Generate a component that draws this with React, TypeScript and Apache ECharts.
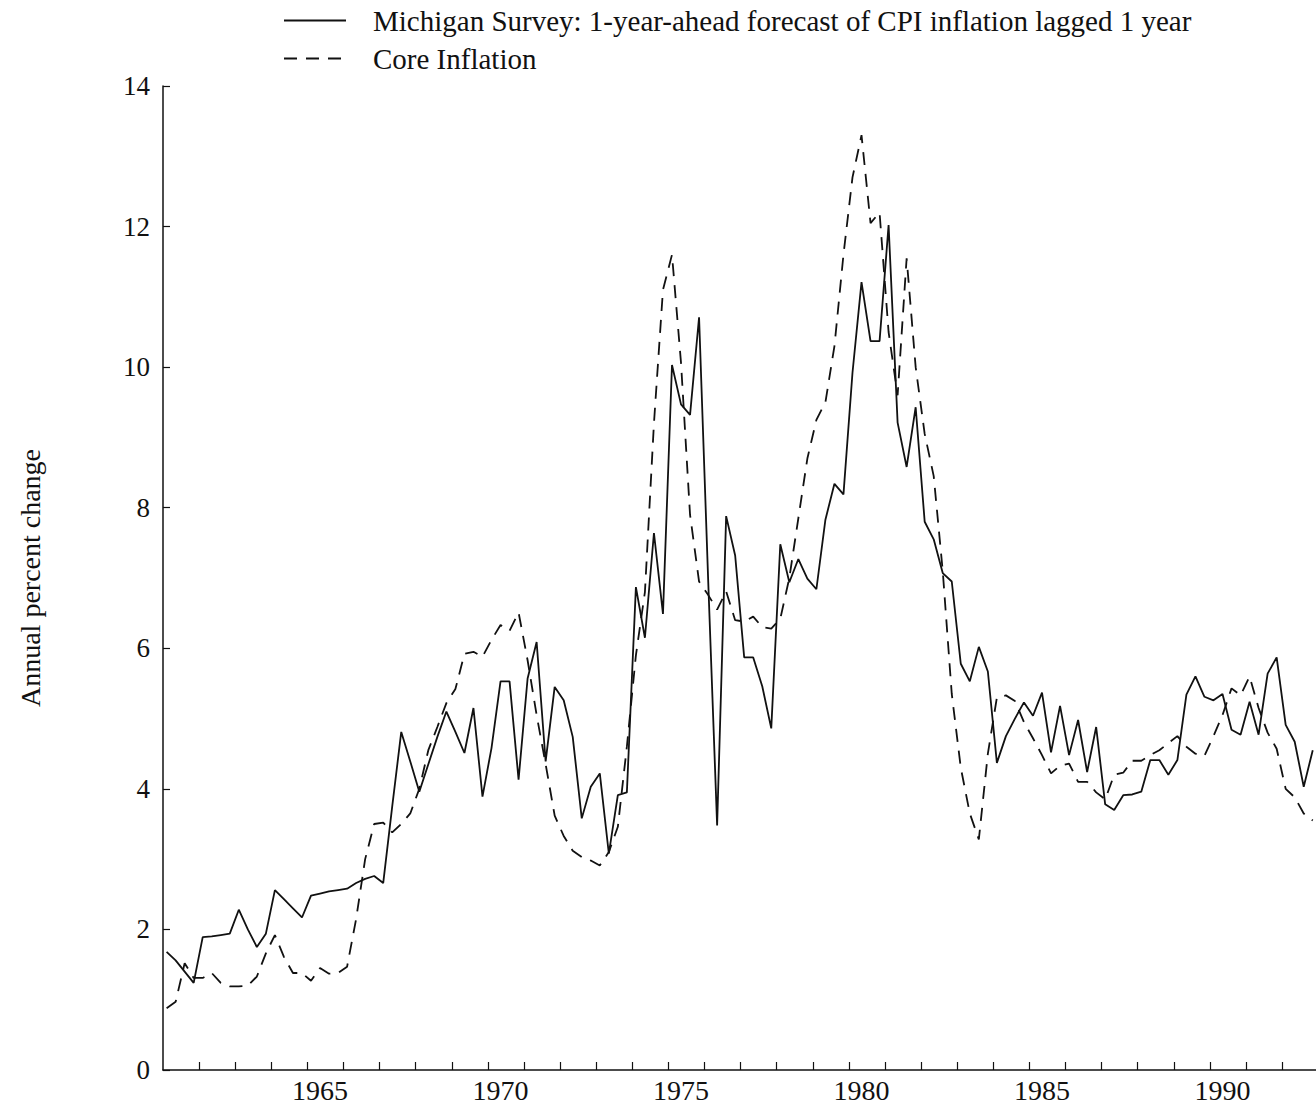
import React, { useEffect, useRef } from "react";
import * as echarts from "echarts";

const startYear = 1961;

const seriesNames = [
  "Michigan Survey: 1-year-ahead forecast of CPI inflation lagged 1 year",
  "Core Inflation",
];

// Quarterly values, 1961Q1 onwards
const michigan = [
  1.68, 1.56, 1.4, 1.24, 1.89, 1.9, 1.92, 1.94, 2.28, 2.0, 1.75, 1.94,
  2.56, 2.43, 2.3, 2.17, 2.48, 2.51, 2.54, 2.56, 2.58, 2.66, 2.72, 2.76,
  2.66, 3.75, 4.81, 4.39, 3.96, 4.35, 4.74, 5.1, 4.81, 4.51, 5.15, 3.89,
  4.58, 5.53, 5.53, 4.13, 5.57, 6.09, 4.39, 5.45, 5.26, 4.74, 3.58, 4.03,
  4.22, 3.08, 3.91, 3.95, 6.87, 6.15, 7.64, 6.49, 10.03, 9.47, 9.32, 10.71,
  7.0, 3.48, 7.88, 7.32, 5.87, 5.87, 5.46, 4.86, 7.48, 6.94, 7.27, 6.99,
  6.84, 7.83, 8.34, 8.19, 9.92, 11.21, 10.37, 10.37, 12.02, 9.21, 8.58, 9.43,
  7.8, 7.55, 7.07, 6.95, 5.78, 5.53, 6.02, 5.67, 4.37, 4.75, 5.0, 5.23,
  5.04, 5.37, 4.52, 5.18, 4.48, 4.98, 4.24, 4.88, 3.78, 3.7, 3.91, 3.92,
  3.96, 4.41, 4.41, 4.2, 4.41, 5.34, 5.6, 5.31, 5.26, 5.35, 4.84, 4.77,
  5.24, 4.77, 5.64, 5.87, 4.91, 4.67, 4.03, 4.55,
];

const core = [
  0.88, 0.97, 1.52, 1.31, 1.31, 1.38, 1.24, 1.19, 1.19, 1.2, 1.33, 1.66,
  1.92, 1.61, 1.38, 1.38, 1.27, 1.45, 1.37, 1.38, 1.47, 2.15, 3.0, 3.5,
  3.52, 3.38, 3.5, 3.65, 4.0, 4.55, 4.88, 5.22, 5.42, 5.92, 5.95, 5.88,
  6.12, 6.33, 6.25, 6.51, 5.83, 5.05, 4.35, 3.62, 3.33, 3.12, 3.03, 2.98,
  2.91, 3.1, 3.46, 4.6, 5.9, 6.8, 9.2, 11.1, 11.6, 10.06, 7.9, 6.95,
  6.76, 6.55, 6.81, 6.4, 6.38, 6.45, 6.3, 6.28, 6.42, 7.0, 7.85, 8.7,
  9.25, 9.5, 10.3, 11.6, 12.7, 13.3, 12.05, 12.2, 10.5, 9.6, 11.55, 10.0,
  9.05, 8.45, 7.1, 5.35, 4.3, 3.65, 3.28, 4.5, 5.3, 5.33, 5.25, 4.95,
  4.72, 4.48, 4.22, 4.33, 4.36, 4.1, 4.1, 3.95, 3.85, 4.2, 4.23, 4.4,
  4.4, 4.48, 4.55, 4.65, 4.75, 4.6, 4.5, 4.47, 4.75, 5.05, 5.43, 5.33,
  5.6, 5.15, 4.8, 4.57, 4.0, 3.88, 3.65, 3.55,
];

const tickYears = [
  1962, 1963, 1964, 1965, 1966, 1967, 1968, 1969, 1970, 1971, 1972, 1973,
  1974, 1975, 1976, 1977, 1978, 1979, 1980, 1981, 1982, 1983, 1984, 1985,
  1986, 1987, 1988, 1989, 1990, 1991, 1992,
];
const labelYears = [1965, 1970, 1975, 1980, 1985, 1990];

// quarter dates (slightly inside each quarter)
const quarterDate = (i: number) => startYear + i / 4 + 0.1;

export default function App() {
  const ref = useRef<HTMLDivElement>(null);

  useEffect(() => {
    if (!ref.current) return;
    const chart = echarts.init(ref.current, null, { renderer: "svg" });
    const ink = "#111";
    chart.setOption({
      animation: false,
      backgroundColor: "#fff",
      textStyle: { fontFamily: "Liberation Serif", color: ink },
      legend: {
        orient: "vertical",
        left: 283,
        top: 6,
        padding: 0,
        itemWidth: 62,
        itemHeight: 12,
        itemGap: 9,
        itemStyle: { opacity: 0 },
        textStyle: {
          fontFamily: "Liberation Serif",
          fontSize: 29,
          color: ink,
          padding: [0, 0, 0, 22],
        },
        data: seriesNames,
      },
      grid: { left: 163, right: 0, top: 86, bottom: 37, containLabel: false },
      xAxis: {
        type: "value",
        min: startYear,
        max: 1992.94,
        splitLine: { show: false },
        axisLine: { show: true, onZero: false, lineStyle: { color: ink, width: 1.5 } },
        axisTick: {
          show: true,
          inside: true,
          length: 8,
          customValues: tickYears,
          lineStyle: { color: ink, width: 1.2 },
        },
        axisLabel: {
          customValues: labelYears.map((y) => y + 0.35),
          formatter: (v: number) => String(Math.floor(v)),
          fontFamily: "Liberation Serif",
          fontSize: 28,
          color: ink,
          margin: 6,
        },
      },
      yAxis: {
        type: "value",
        min: 0,
        max: 14,
        interval: 2,
        splitLine: { show: false },
        axisLine: { show: true, lineStyle: { color: ink, width: 1.5 } },
        axisTick: { show: true, inside: true, length: 7, lineStyle: { color: ink, width: 1.2 } },
        axisLabel: {
          fontFamily: "Liberation Serif",
          fontSize: 27,
          color: ink,
          margin: 13,
        },
        name: "Annual percent change",
        nameLocation: "middle",
        nameRotate: 90,
        nameGap: 119,
        nameTextStyle: { fontFamily: "Liberation Serif", fontSize: 28, color: ink },
      },
      series: [
        {
          name: seriesNames[0],
          type: "line",
          symbol: "none",
          data: michigan.map((v, i) => [quarterDate(i), v]),
          lineStyle: { color: ink, width: 1.8, type: "solid" },
          itemStyle: { color: ink },
        },
        {
          name: seriesNames[1],
          type: "line",
          symbol: "none",
          data: core.map((v, i) => [quarterDate(i), v]),
          lineStyle: { color: ink, width: 1.8, type: [13, 9] },
          itemStyle: { color: ink },
        },
      ],
    });
    return () => chart.dispose();
  }, []);

  return (
    <div
      ref={ref}
      style={{ position: "absolute", left: 0, top: 0, width: 1316, height: 1107, background: "#fff" }}
    />
  );
}
